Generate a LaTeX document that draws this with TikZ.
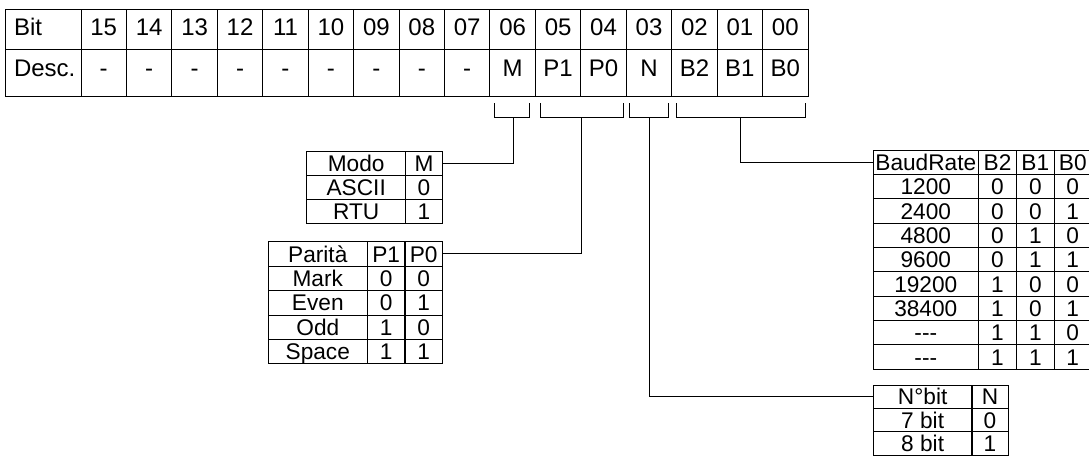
\documentclass[tikz,border=0pt]{standalone}
\usepackage{fontspec}
\setmainfont{Liberation Sans}
\usetikzlibrary{positioning}
\tikzset{every picture/.style={line width=0.75pt}}
\tikzset{
  bitcell/.style={draw, minimum width=34.08pt, minimum height=30pt, inner sep=0pt,
    font=\fontsize{18}{18}\selectfont, text height=12.9pt, text depth=3.4pt},
  desccell/.style={bitcell, minimum height=35.55pt, text depth=8.2pt},
  tabcell/.style={draw, minimum height=18pt, inner sep=0pt,
    font=\fontsize{17}{17}\selectfont, text height=12.2pt, text depth=0pt},
}

\begin{document}
\begin{tikzpicture}[x=0.75pt,y=-0.75pt]
              \useasboundingbox (0,0) rectangle (1089,455);
              % registro
              \node[bitcell, minimum width=57pt, text width=43.5pt, align=left, inner xsep=6.75pt] (bit) at (43,29.3) {Bit};
              \node[desccell, minimum width=57pt, text width=43.5pt, align=left, inner xsep=6.75pt] (desc) at (43,73) {Desc.};
              \foreach \b/\d [count=\k from 0] in {15/-,14/-,13/-,12/-,11/-,10/-,09/-,08/-,07/-,06/M,05/P1,04/P0,03/N,02/B2,01/B1,00/B0} {
                \node[bitcell] (b\b) at ({103.72+45.44*\k},29.3) {\b};
                \node[desccell] (d\b) at ({103.72+45.44*\k},73) {\d};
              }
              % parentesi
              \draw (494,103) |- (529,117) -- (529,103);
              \draw (540,103) |- (623,117) -- (623,103);
              \draw (629,103) |- (668,117) -- (668,103);
              \draw (676,103) |- (805,117) -- (805,103);
              \coordinate (mstem) at (513,117);
              \coordinate (pstem) at (581,117);
              \coordinate (nstem) at (649,117);
              \coordinate (bstem) at (740,117);
              % modo
              \foreach \t/\v [count=\r from 0] in {Modo/M, ASCII/0, RTU/1} {
                \node[tabcell, minimum width=74.25pt] (modo\r) at (356.2,{163+24*\r}) {\t};
                \node[tabcell, minimum width=27.45pt] (modoM\r) at (424,{163+24*\r}) {\v};
              }
              % parita
              \foreach \t/\u/\v [count=\r from 0] in {Parità/P1/P0, Mark/0/0, Even/0/1, Odd/1/0, Space/1/1} {
                \node[tabcell, minimum width=74.25pt, minimum height=18.35pt] (par\r) at (317.8,{253.9+24.46*\r}) {\t};
                \node[tabcell, minimum width=28.3pt, minimum height=18.35pt] (parA\r) at (386.15,{253.9+24.46*\r}) {\u};
                \node[tabcell, minimum width=28pt, minimum height=18.35pt] (parB\r) at (423.65,{253.9+24.46*\r}) {\v};
              }
              % baudrate
              \foreach \t/\x/\y/\z [count=\r from 0] in {BaudRate/B2/B1/B0, 1200/0/0/0, 2400/0/0/1, 4800/0/1/0, 9600/0/1/1, 19200/1/0/0, 38400/1/0/1, -{}-{}-/1/1/0, -{}-{}-/1/1/1} {
                \node[tabcell, minimum width=78.75pt, minimum height=18.28pt] (baud\r) at (925.8,{162.2+24.37*\r}) {\t};
                \node[tabcell, minimum width=28.8pt, minimum height=18.28pt] (baudA\r) at (997.5,{162.2+24.37*\r}) {\x};
                \node[tabcell, minimum width=28pt, minimum height=18.28pt] (baudB\r) at (1035.35,{162.2+24.37*\r}) {\y};
                \node[tabcell, minimum width=28.1pt, minimum height=18.28pt] (baudC\r) at (1072.75,{162.2+24.37*\r}) {\z};
              }
              % numero bit
              \foreach \t/\v [count=\r from 0] in {N°bit/N, 7 bit/0, 8 bit/1} {
                \node[tabcell, minimum width=74pt, minimum height=17.5pt] (nbit\r) at (922.65,{396.7+23.33*\r}) {\t};
                \node[tabcell, minimum width=27pt, minimum height=17.5pt] (nbitN\r) at (990,{396.7+23.33*\r}) {\v};
              }
              % collegamenti
              \draw (mstem) |- (modoM0.east);
              \draw (pstem) |- (parB0.east);
              \draw (bstem) |- (baud0.west);
              \draw (nstem) |- (nbit0.west);
            \end{tikzpicture}
\end{document}
